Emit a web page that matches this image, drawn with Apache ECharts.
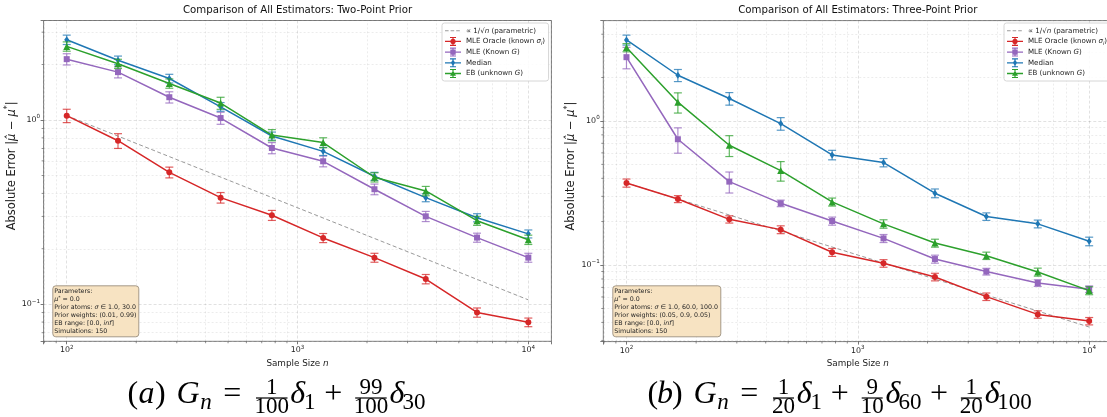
<!DOCTYPE html>
<html><head><meta charset="utf-8">
<script src="https://cdn.jsdelivr.net/npm/echarts@6/dist/echarts.min.js"></script>
<style>html,body{margin:0;padding:0;background:#fff}#c{width:1107px;height:417px}</style>
</head><body><div id="c"></div>
<script>
// ---------------- data ----------------
const sampleSizes = [100, 166.8, 278.3, 464.2, 774.3, 1291.5, 2154.4, 3593.8, 5994.8, 10000];

// Panel (a): two-point prior
const a_oracle    = [1.056, 0.772, 0.520, 0.379, 0.304, 0.229, 0.179, 0.137, 0.0902, 0.0798];
const a_oracleErr = [0.088, 0.071, 0.035, 0.025, 0.019, 0.013, 0.010, 0.008, 0.0052, 0.0043];
const a_mleG      = [2.14, 1.82, 1.33, 1.025, 0.705, 0.597, 0.421, 0.300, 0.230, 0.179];
const a_mleGErr   = [0.15, 0.127, 0.093, 0.077, 0.049, 0.040, 0.028, 0.019, 0.013, 0.010];
const a_median    = [2.73, 2.11, 1.68, 1.18, 0.819, 0.676, 0.495, 0.379, 0.295, 0.241];
const a_medianErr = [0.16, 0.114, 0.091, 0.064, 0.041, 0.034, 0.025, 0.019, 0.015, 0.012];
const a_eb        = [2.51, 2.02, 1.58, 1.236, 0.829, 0.754, 0.489, 0.412, 0.284, 0.224];
const a_ebErr     = [0.146, 0.117, 0.092, 0.093, 0.058, 0.047, 0.028, 0.024, 0.016, 0.013];
const a_refN      = [100, 10000];
const a_ref       = [1.056, 0.1056];

// Panel (b): three-point prior
const b_oracle    = [0.371, 0.287, 0.2075, 0.176, 0.1225, 0.1027, 0.0826, 0.0603, 0.0454, 0.0408];
const b_oracleErr = [0.024, 0.016, 0.012, 0.011, 0.0078, 0.0062, 0.005, 0.0036, 0.0027, 0.0024];
const b_mleG      = [2.77, 0.746, 0.379, 0.268, 0.202, 0.153, 0.110, 0.090, 0.075, 0.068];
const b_mleGErr   = [0.47, 0.149, 0.063, 0.014, 0.013, 0.0098, 0.007, 0.0048, 0.004, 0.0036];
const b_median    = [3.65, 2.075, 1.43, 0.958, 0.581, 0.514, 0.315, 0.217, 0.193, 0.146];
const b_medianErr = [0.29, 0.20, 0.143, 0.096, 0.044, 0.034, 0.022, 0.013, 0.012, 0.010];
const b_eb        = [3.23, 1.35, 0.678, 0.452, 0.274, 0.193, 0.142, 0.116, 0.0894, 0.0664];
const b_ebErr     = [0.21, 0.216, 0.112, 0.070, 0.0175, 0.013, 0.009, 0.0068, 0.0057, 0.0042];
const b_refN      = [100, 10000];
const b_ref       = [0.371, 0.0371];

// axis ranges and tick values
const xRange   = [79.4, 12589];
const a_yRange = [0.0629, 3.47];
const b_yRange = [0.0294, 4.97];
const xMinorTicks   = [80, 90, 200, 300, 400, 500, 600, 700, 800, 900, 2000, 3000, 4000, 5000, 6000, 7000, 8000, 9000];
const a_yMinorTicks = [0.07, 0.08, 0.09, 0.2, 0.3, 0.4, 0.5, 0.6, 0.7, 0.8, 0.9, 2, 3];
const b_yMinorTicks = [0.03, 0.04, 0.05, 0.06, 0.07, 0.08, 0.09, 0.2, 0.3, 0.4, 0.5, 0.6, 0.7, 0.8, 0.9, 2, 3, 4];

const titleA = 'Comparison of All Estimators: Two-Point Prior';
const titleB = 'Comparison of All Estimators: Three-Point Prior';
const paramsA = 'Parameters:\n{it|μ}{sup|*} = 0.0\nPrior atoms: {it|σ} ∈ 1.0, 30.0\nPrior weights: (0.01, 0.99)\nEB range: [0.0, {it|inf}]\nSimulations: 150';
const paramsB = 'Parameters:\n{it|μ}{sup|*} = 0.0\nPrior atoms: {it|σ} ∈ 1.0, 60.0, 100.0\nPrior weights: (0.05, 0.9, 0.05)\nEB range: [0.0, {it|inf}]\nSimulations: 150';

// ---------------- styling ----------------
const FONT = "'DejaVu Sans', 'Noto Sans', sans-serif";
const SERIF = "'Liberation Serif', 'DejaVu Serif', serif";
const COL = {ref: '#9a9a9a', oracle: '#d62728', mleG: '#9467bd', median: '#1f77b4', eb: '#2ca02c'};
const TXT = '#222';

function pow10(v) {
  const e = Math.log10(v), r = Math.round(e);
  if (Math.abs(e - r) > 1e-6) return '';
  return '{b|10}{s|' + (r < 0 ? '\u2212' + (-r) : r) + '}';
}
const tickRich = {
  b: {fontFamily: FONT, fontSize: 7.9, color: TXT, lineHeight: 12},
  s: {fontFamily: FONT, fontSize: 5.6, color: TXT, verticalAlign: 'top', lineHeight: 7}
};
const gridLine = {color: 'rgba(0,0,0,0.15)', width: 0.8, type: [3, 2]};

const grids = [
  {left: 43.6, top: 20.5, width: 507.8, height: 320.8, show: true, borderColor: '#666', borderWidth: 0.8, containLabel: false, outerBoundsMode: 'none'},
  {left: 603.3, top: 20.6, width: 509, height: 321, show: true, borderColor: '#666', borderWidth: 0.8, containLabel: false, outerBoundsMode: 'none'}
];

function xAxisCfg(gi) {
  return {
    type: 'log', logBase: 10, gridIndex: gi, min: xRange[0], max: xRange[1],
    name: 'Sample Size {it|n}', nameLocation: 'middle', nameGap: 11.5,
    nameTextStyle: {fontFamily: FONT, fontSize: 8.8, color: TXT,
      rich: {it: {fontFamily: FONT, fontSize: 8.8, fontStyle: 'italic', color: TXT}}},
    axisLine: {show: false},
    axisTick: {show: true, length: 3, lineStyle: {color: '#555', width: 0.8}},
    axisLabel: {show: true, margin: 3, formatter: pow10, rich: tickRich, color: TXT},
    splitLine: {show: true, lineStyle: gridLine}
  };
}
function yAxisCfg(gi, range, gap) {
  return {
    type: 'log', logBase: 10, gridIndex: gi, min: range[0], max: range[1],
    name: 'Absolute Error |{it|μ\u0302} \u2212 {it|μ}{sup|*}|', nameLocation: 'middle', nameGap: gap, nameRotate: 90,
    nameTextStyle: {fontFamily: FONT, fontSize: 11.5, color: TXT, padding: [0, 0, 0, 30],
      rich: {it: {fontFamily: FONT, fontSize: 11.5, fontStyle: 'italic', color: TXT, lineHeight: 16},
             sup: {fontFamily: FONT, fontSize: 8, color: TXT, verticalAlign: 'top', lineHeight: 9}}},
    axisLine: {show: false},
    axisTick: {show: true, length: 3, lineStyle: {color: '#555', width: 0.8}},
    axisLabel: {show: true, margin: 3.6, formatter: pow10, rich: tickRich, color: TXT},
    splitLine: {show: true, lineStyle: gridLine}
  };
}

function helperSeries(gi, yRange, yMinor) {
  return [{
    type: 'line', name: 'grid-' + gi, xAxisIndex: gi, yAxisIndex: gi, data: [], silent: true, z: 0,
    markLine: {
      silent: true, z: 1, symbol: ['none', 'none'], label: {show: false}, animation: false,
      emphasis: {disabled: true},
      lineStyle: {color: 'rgba(0,0,0,0.11)', width: 0.7, type: [2, 2]},
      data: xMinorTicks.map(v => ({xAxis: v})).concat(yMinor.map(v => ({yAxis: v})))
    }
  }, {
    type: 'scatter', name: 'mtx-' + gi, xAxisIndex: gi, yAxisIndex: gi, silent: true, clip: false, z: 3,
    symbol: 'rect', symbolSize: [0.8, 2], symbolOffset: [0, 1], itemStyle: {color: '#555'},
    data: xMinorTicks.map(v => [v, yRange[0]])
  }, {
    type: 'scatter', name: 'mty-' + gi, xAxisIndex: gi, yAxisIndex: gi, silent: true, clip: false, z: 3,
    symbol: 'rect', symbolSize: [2, 0.8], symbolOffset: [-1, 0], itemStyle: {color: '#555'},
    data: yMinor.map(v => [xRange[0], v])
  }];
}

function errSeries(gi, key, ys, errs, z) {
  const color = COL[key];
  return {
    type: 'custom', name: 'err-' + key + '-' + gi, xAxisIndex: gi, yAxisIndex: gi, silent: true, z: z,
    data: sampleSizes.map((n, i) => [n, ys[i], errs[i]]),
    encode: {x: 0, y: 1},
    renderItem: function (params, api) {
      const x = api.value(0), y = api.value(1), e = api.value(2);
      const lo = api.coord([x, y - e]), hi = api.coord([x, y + e]);
      const cw = 4;
      const st = {stroke: color, lineWidth: 1.2, opacity: 0.75};
      return {type: 'group', children: [
        {type: 'line', shape: {x1: lo[0], y1: lo[1], x2: hi[0], y2: hi[1]}, style: st},
        {type: 'line', shape: {x1: lo[0] - cw, y1: lo[1], x2: lo[0] + cw, y2: lo[1]}, style: st},
        {type: 'line', shape: {x1: hi[0] - cw, y1: hi[1], x2: hi[0] + cw, y2: hi[1]}, style: st}
      ]};
    }
  };
}
function lineSeries(gi, key, ys, symbol, size, z) {
  return {
    type: 'line', name: key, xAxisIndex: gi, yAxisIndex: gi, silent: true, z: z,
    data: sampleSizes.map((n, i) => [n, ys[i]]),
    symbol: symbol, symbolSize: size, showSymbol: true,
    lineStyle: {color: COL[key], width: 1.5},
    itemStyle: {color: COL[key], borderWidth: 0},
    emphasis: {disabled: true}
  };
}
function refSeries(gi, ns, vals) {
  return {
    type: 'line', name: 'ref', xAxisIndex: gi, yAxisIndex: gi, silent: true, z: 5,
    data: ns.map((n, i) => [n, vals[i]]), symbol: 'none',
    lineStyle: {color: COL.ref, width: 1, type: [4, 2.5]},
    itemStyle: {color: COL.ref}, emphasis: {disabled: true}
  };
}
function panelSeries(gi, d) {
  return [].concat(
    helperSeries(gi, d.yRange, d.yMinor),
    [refSeries(gi, d.refN, d.ref),
     errSeries(gi, 'oracle', d.oracle, d.oracleErr, 10), lineSeries(gi, 'oracle', d.oracle, 'circle', 6, 11),
     errSeries(gi, 'mleG', d.mleG, d.mleGErr, 12), lineSeries(gi, 'mleG', d.mleG, 'rect', 6, 13),
     errSeries(gi, 'median', d.median, d.medianErr, 14), lineSeries(gi, 'median', d.median, 'diamond', [5, 7], 15),
     errSeries(gi, 'eb', d.eb, d.ebErr, 16), lineSeries(gi, 'eb', d.eb, 'triangle', 7, 17)]
  );
}

// legend
const iconBox = 'M0 0H0.01V0.01H0Z M15.99 8.99H16V9H15.99Z ';
const iconBase = 'M0 3.85H16V5.15H0Z M7.4 0.5H8.6V8.5H7.4Z M5 0H11V1.1H5Z M5 7.9H11V9H5Z ';
const legendIcons = {
  ref: 'path://' + iconBox + 'M0 4H3.6V5H0Z M5.6 4H9.2V5H5.6Z M11.2 4H14.8V5H11.2Z',
  oracle: 'path://' + iconBase + 'M5.4 4.5A2.6 2.6 0 1 1 10.6 4.5A2.6 2.6 0 1 1 5.4 4.5Z',
  mleG: 'path://' + iconBase + 'M5.3 1.8H10.7V7.2H5.3Z',
  median: 'path://' + iconBase + 'M8 1.2L10.2 4.5L8 7.8L5.8 4.5Z',
  eb: 'path://' + iconBase + 'M8 1.4L11 6.8H5Z'
};
const legendNames = ['ref', 'oracle', 'mleG', 'median', 'eb'];
const legendLabels = {
  ref: '\u221d 1/\u221a{it|n} (parametric)',
  oracle: 'MLE Oracle (known {it|σ}{sub|i})',
  mleG: 'MLE (Known {it|G})',
  median: 'Median',
  eb: 'EB (unknown {it|G})'
};
function legendCfg(left) {
  return {
    orient: 'vertical', left: left, top: 23, itemWidth: 16, itemHeight: 9, itemGap: 1.7,
    padding: [3.2, 3.5, 3, 3], backgroundColor: 'rgba(255,255,255,0.85)',
    borderColor: '#ccc', borderWidth: 0.8, borderRadius: 2.5, selectedMode: false,
    itemStyle: {borderWidth: 0},
    data: legendNames.map(n => ({name: n, icon: legendIcons[n]})),
    formatter: n => legendLabels[n],
    textStyle: {fontFamily: FONT, fontSize: 7.1, color: TXT, lineHeight: 9,
      rich: {it: {fontFamily: FONT, fontSize: 7.1, fontStyle: 'italic', color: TXT, lineHeight: 9},
             sub: {fontFamily: FONT, fontSize: 5, fontStyle: 'italic', color: TXT, verticalAlign: 'bottom', lineHeight: 6}}}
  };
}
function paramBox(text, left) {
  return {
    text: text, left: left, top: 285.7, padding: [1.6, 3, 1.6, 2],
    backgroundColor: '#f7e3c2', borderColor: '#8f8474', borderWidth: 0.8, borderRadius: 3,
    textStyle: {fontFamily: FONT, fontSize: 6.3, fontWeight: 'normal', color: TXT, lineHeight: 8.1,
      rich: {it: {fontFamily: FONT, fontSize: 6.3, fontStyle: 'italic', color: TXT, lineHeight: 8.1},
             sup: {fontFamily: FONT, fontSize: 4.5, color: TXT, verticalAlign: 'top', lineHeight: 5}}}
  };
}

// captions (LaTeX-like layout, widths in em)
const capA = [['(', .389], ['a', .529, 'it'], [')', .389], [null, .333], ['G', .786, 'it'], ['n', .42, 'subit'],
  [null, .278], ['=', .778], [null, .278], [['1', '100'], 1.29, 'frac'], ['δ', .444, 'it'], ['1', .35, 'sub'],
  [null, .222], ['+', .778], [null, .222], [['99', '100'], 1.29, 'frac'], ['δ', .444, 'it'], ['30', .7, 'sub']];
const capB = [['(', .389], ['b', .429, 'it'], [')', .389], [null, .333], ['G', .786, 'it'], ['n', .42, 'subit'],
  [null, .278], ['=', .778], [null, .278], [['1', '20'], .94, 'frac'], ['δ', .444, 'it'], ['1', .35, 'sub'],
  [null, .222], ['+', .778], [null, .222], [['9', '10'], .94, 'frac'], ['δ', .444, 'it'], ['60', .7, 'sub'],
  [null, .222], ['+', .778], [null, .222], [['1', '20'], .94, 'frac'], ['δ', .444, 'it'], ['100', 1.05, 'sub']];
const CAP = {main: 395, sub: 402.5, num: 388, den: 407, bar: 398};
function capText(t, x, y, size, italic) {
  return {type: 'text', x: x, y: y, silent: true, z: 100,
    style: {text: t, fontSize: size, fontFamily: SERIF, fontStyle: italic ? 'italic' : 'normal', fill: '#000',
      textAlign: 'center', textVerticalAlign: 'middle', align: 'center', verticalAlign: 'middle'}};
}
function caption(spec, x0, F, G) {
  const g = G * 0.72, els = [];
  let x = x0;
  spec.forEach(([t, w, kind]) => {
    const W = w * F, cx = x + W / 2;
    if (t !== null) {
      if (kind === 'frac') {
        els.push({type: 'rect', silent: true, z: 100, shape: {x: x + 0.12 * F, y: CAP.bar - 0.6, width: W - 0.24 * F, height: 1.2}, style: {fill: '#000'}});
        els.push(capText(t[0], cx, CAP.num, g, false));
        els.push(capText(t[1], cx, CAP.den, g, false));
      } else if (kind === 'sub' || kind === 'subit') {
        els.push(capText(t, cx, CAP.sub, g, kind === 'subit'));
      } else {
        els.push(capText(t, cx, CAP.main, G, kind === 'it'));
      }
    }
    x += W;
  });
  return els;
}

const panelA = {yRange: a_yRange, yMinor: a_yMinorTicks, oracle: a_oracle, oracleErr: a_oracleErr, mleG: a_mleG, mleGErr: a_mleGErr,
  median: a_median, medianErr: a_medianErr, eb: a_eb, ebErr: a_ebErr, refN: a_refN, ref: a_ref};
const panelB = {yRange: b_yRange, yMinor: b_yMinorTicks, oracle: b_oracle, oracleErr: b_oracleErr, mleG: b_mleG, mleGErr: b_mleGErr,
  median: b_median, medianErr: b_medianErr, eb: b_eb, ebErr: b_ebErr, refN: b_refN, ref: b_ref};

const chart = echarts.init(document.getElementById('c'), null, {renderer: 'canvas'});
chart.setOption({
  animation: false,
  backgroundColor: '#fff',
  textStyle: {fontFamily: FONT},
  title: [
    {text: titleA, left: 297.5, top: 5, padding: 0, textAlign: 'center', textStyle: {fontFamily: FONT, fontSize: 10.2, fontWeight: 'normal', color: '#111'}},
    {text: titleB, left: 857.8, top: 5, padding: 0, textAlign: 'center', textStyle: {fontFamily: FONT, fontSize: 10.2, fontWeight: 'normal', color: '#111'}},
    paramBox(paramsA, 52.3),
    paramBox(paramsB, 612.3)
  ],
  legend: [legendCfg(442), legendCfg(1004)],
  grid: grids,
  xAxis: [xAxisCfg(0), xAxisCfg(1)],
  yAxis: [yAxisCfg(0, a_yRange, 21), yAxisCfg(1, b_yRange, 21)],
  series: panelSeries(0, panelA).concat(panelSeries(1, panelB)),
  graphic: caption(capA, 127, 30, 32).concat(caption(capB, 647, 30, 32))
});
</script>
</body></html>
